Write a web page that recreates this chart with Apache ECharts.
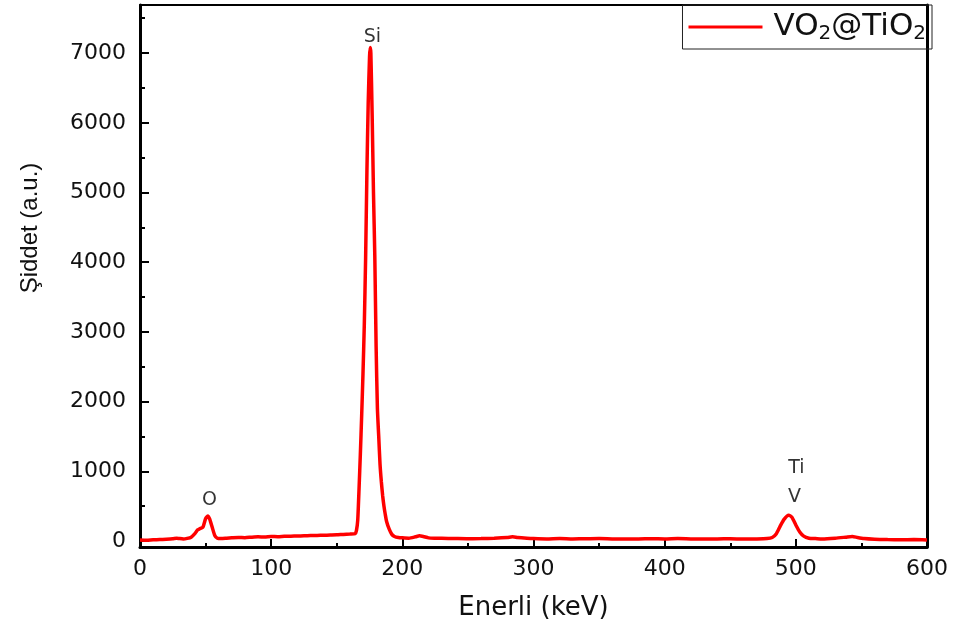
<!DOCTYPE html>
<html>
<head>
<meta charset="utf-8">
<script src="https://cdn.jsdelivr.net/npm/echarts@6/dist/echarts.min.js"></script>
<style>
  html, body { margin: 0; padding: 0; background: #fff; }
  #chart { width: 958px; height: 634px; }
</style>
</head>
<body>
<div id="chart"></div>
<script>
// EDS spektrumu
const energy = [0, 5, 10, 15, 20, 25, 28, 30, 33, 36, 39, 42, 44, 45.5, 48, 50, 51.7, 53, 55, 57, 59, 62, 66, 70, 75, 80, 85, 90, 95, 100,
  105, 110, 115, 120, 125, 130, 135, 140, 145, 150, 155, 160, 164, 165, 166, 167, 168, 169, 170, 171, 172, 173, 174, 175, 175.5, 176, 177,
  178, 179, 180, 181, 182, 183, 184, 185, 186, 187, 188, 190, 192, 194, 197, 200, 205, 210, 213, 216, 220, 225, 230, 240, 250, 260, 270, 280,
  284, 288, 295, 300, 310, 320, 330, 340, 350, 360, 370, 380, 390, 400, 410, 420, 430, 440, 450, 460, 470, 478, 482, 485, 488,
  491, 494.5, 497, 500, 503, 506, 510, 515, 520, 530, 538, 543, 547, 552, 560, 570, 580, 590, 600]
const intensity = [15, 12, 18, 20, 25, 32, 40, 35, 30, 38, 55, 110, 160, 175, 200, 320, 360, 320, 200, 80, 40, 35, 40, 45, 50, 48, 55, 60, 58, 65,
  62, 68, 70, 72, 75, 78, 80, 82, 85, 88, 95, 100, 105, 150, 300, 750, 1250, 1800, 2400, 3100, 4050, 5300, 6300, 6950, 7080, 7000, 6100,
  5000, 4100, 2800, 1900, 1500, 1100, 850, 650, 500, 380, 280, 170, 95, 65, 50, 45, 40, 60, 75, 65, 45, 40, 38, 35, 32, 35, 40, 50,
  60, 50, 40, 35, 30, 35, 30, 32, 35, 30, 28, 30, 32, 30, 35, 30, 28, 30, 32, 28, 30, 35, 50, 100, 210,
  310, 370, 340, 230, 130, 70, 40, 35, 30, 40, 55, 65, 50, 35, 25, 20, 18, 20, 15]

// pik etiketleri
const peakNames = ['Si', 'O', 'Ti', 'V']
const peakX = [177.2, 53, 500.4, 499]
const peakY = [7233, 588, 1048, 631]

const yMajorTicks = [0, 1000, 2000, 3000, 4000, 5000, 6000, 7000]
const yMinorTicks = [500, 1500, 2500, 3500, 4500, 5500, 6500, 7500]

const chart = echarts.init(document.getElementById('chart'))

const lineData = energy.map((e, i) => [e, intensity[i]])
const labelData = peakNames.map((n, i) => [peakX[i], peakY[i], n])

const yMin = -86
const yMax = 7690
const numFont = 'DejaVu Sans'

const option = {
  animation: false,
  grid: { left: 140, right: 31, top: 5, bottom: 87 },
  legend: {
    right: 26,
    top: 5,
    padding: [5, 6, 5, 6],
    borderColor: '#222',
    borderWidth: 1,
    itemWidth: 74,
    itemHeight: 3,
    itemGap: 0,
    data: [{ name: 'VO2@TiO2', icon: 'rect' }],
    formatter: () => '{a0|VO}{b|2}{a|@TiO}{b|2}',
    textStyle: {
      rich: {
        a0: { fontFamily: numFont, fontSize: 31, color: '#111', lineHeight: 35, padding: [0, 0, 0, 6] },
        a: { fontFamily: numFont, fontSize: 31, color: '#111', lineHeight: 35 },
        b: { fontFamily: numFont, fontSize: 20, color: '#111', lineHeight: 35, padding: [14, 0, 0, 0] }
      }
    }
  },
  xAxis: [
    {
      type: 'value',
      min: 0,
      max: 600,
      interval: 100,
      name: 'Enerli (keV)',
      nameLocation: 'middle',
      nameGap: 48,
      nameTextStyle: { fontFamily: numFont, fontSize: 26, color: '#111' },
      axisLine: { show: true, onZero: false, lineStyle: { color: '#000', width: 3 } },
      axisTick: { inside: true, length: 8, lineStyle: { color: '#000', width: 2 } },
      minorTick: { show: true, splitNumber: 2, length: 4, lineStyle: { color: '#000', width: 2 } },
      splitLine: { show: false },
      axisLabel: { margin: 11, fontFamily: numFont, fontSize: 22, color: '#111' }
    },
    {
      type: 'value',
      position: 'top',
      min: 0,
      max: 600,
      axisLine: { show: true, onZero: false, lineStyle: { color: '#000', width: 2 } },
      axisTick: { show: false },
      axisLabel: { show: false },
      splitLine: { show: false }
    }
  ],
  yAxis: [
    {
      type: 'value',
      min: yMin,
      max: yMax,
      name: 'Şiddet (a.u.)',
      nameLocation: 'middle',
      nameGap: 98,
      nameTextStyle: { fontFamily: 'Liberation Sans', fontSize: 24, color: '#111', padding: [0, 0, 0, 96] },
      axisLine: { show: true, onZero: false, lineStyle: { color: '#000', width: 3 } },
      axisTick: { inside: true, length: 9, customValues: yMajorTicks, lineStyle: { color: '#000', width: 2 } },
      axisLabel: {
        margin: 14,
        customValues: yMajorTicks,
        formatter: (v) => String(v),
        fontFamily: numFont,
        fontSize: 22,
        color: '#111'
      },
      splitLine: { show: false }
    },
    {
      // kucuk isaretler
      type: 'value',
      position: 'left',
      min: yMin,
      max: yMax,
      axisLine: { show: false },
      axisTick: { inside: true, length: 5, customValues: yMinorTicks, lineStyle: { color: '#000', width: 2 } },
      axisLabel: { show: false, customValues: yMinorTicks },
      splitLine: { show: false }
    },
    {
      type: 'value',
      position: 'right',
      min: yMin,
      max: yMax,
      axisLine: { show: true, onZero: false, lineStyle: { color: '#000', width: 3 } },
      axisTick: { show: false },
      axisLabel: { show: false },
      splitLine: { show: false }
    }
  ],
  series: [
    {
      name: 'VO2@TiO2',
      type: 'line',
      data: lineData,
      symbol: 'none',
      smooth: 0.2,
      lineStyle: { color: '#ff0000', width: 3.5 },
      itemStyle: { color: '#ff0000' }
    },
    {
      name: 'etiket',
      type: 'scatter',
      data: labelData,
      symbolSize: 0,
      silent: true,
      label: {
        show: true,
        position: 'inside',
        formatter: (p) => p.value[2],
        fontFamily: numFont,
        fontSize: 19,
        color: '#000'
      }
    }
  ]
}

chart.setOption(option)
</script>
</body>
</html>
